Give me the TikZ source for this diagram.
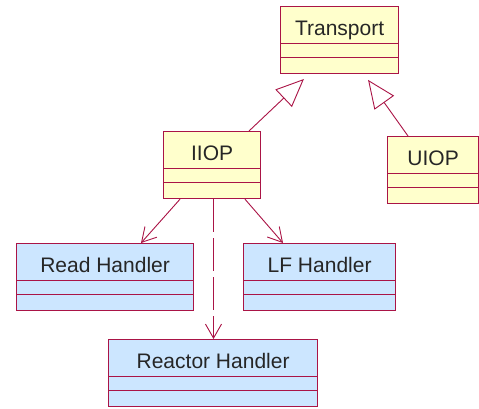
\documentclass[tikz,border=0pt]{standalone}
\usepackage{fontspec}
\setmainfont{Liberation Sans}
\usetikzlibrary{arrows.meta}
\definecolor{umlborder}{RGB}{170,20,70}
\definecolor{classyellow}{RGB}{255,255,204}
\definecolor{classblue}{RGB}{204,230,255}

\begin{document}
\begin{tikzpicture}[
	x=1pt, y=-1pt,
	umlclass/.style={draw=umlborder, line width=1.2pt, inner sep=0pt, anchor=north west,
		font=\fontsize{21}{21}\selectfont, text=black!85,
		minimum height=67pt, text height=28.5pt, text depth=38.5pt,
		path picture={\draw[umlborder, line width=1.2pt]
			([yshift=-37pt]path picture bounding box.north west) -- ([yshift=-37pt]path picture bounding box.north east)
			([yshift=-51pt]path picture bounding box.north west) -- ([yshift=-51pt]path picture bounding box.north east);}},
	yellowclass/.style={umlclass, fill=classyellow},
	blueclass/.style={umlclass, fill=classblue},
	generalize/.style={draw=umlborder, line width=0.9pt, -{Triangle[open, length=28pt, width=24pt]}},
	assoc/.style={draw=umlborder, line width=0.9pt, -{Straight Barb[length=14pt, width=16pt]}},
	depend/.style={assoc, dash pattern=on 33pt off 6pt}
	]
\useasboundingbox[fill=white] (0,0) rectangle (479,408);

\node[yellowclass, minimum width=118pt] (transport) at (280,6) {Transport};
\node[yellowclass, minimum width=97pt] (iiop) at (163,131) {IIOP};
\node[yellowclass, minimum width=91pt] (uiop) at (387,136) {UIOP};
\node[blueclass, minimum width=177pt] (read) at (16,243) {Read Handler};
\node[blueclass, minimum width=152pt] (lf) at (243,243) {LF Handler};
\node[blueclass, minimum width=209pt] (reactor) at (108,339) {Reactor Handler};

\path ([xshift=86pt]iiop.north west) edge[generalize, shorten >=7pt] ([xshift=29pt]transport.south west);
\path ([xshift=21pt]uiop.north west) edge[generalize, shorten >=7pt] ([xshift=84pt]transport.south west);
\path ([xshift=17pt]iiop.south west) edge[assoc] ([xshift=125pt]read.north west);
\path ([xshift=82pt]iiop.south west) edge[assoc] ([xshift=40pt]lf.north west);
\path ([xshift=50.5pt]iiop.south west) edge[depend] ([xshift=105.5pt]reactor.north west);
\end{tikzpicture}
\end{document}
